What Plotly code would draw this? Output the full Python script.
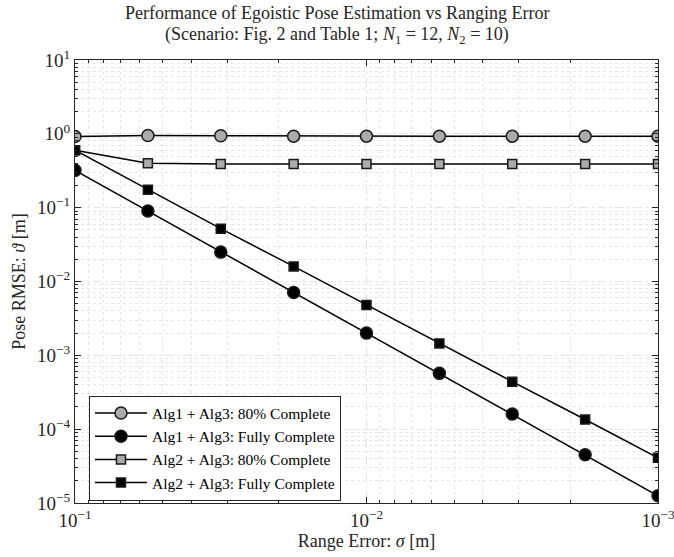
import plotly.graph_objects as go

sigma = [1e-1, 5.623e-2, 3.162e-2, 1.778e-2, 1e-2, 5.623e-3, 3.162e-3, 1.778e-3, 1e-3]
alg1_80 = [0.92, 0.95, 0.94, 0.93, 0.93, 0.93, 0.93, 0.93, 0.93]
alg1_full = [0.32, 0.090, 0.025, 0.0071, 0.0020, 0.00057, 0.00016, 4.5e-5, 1.25e-5]
alg2_80 = [0.60, 0.40, 0.39, 0.39, 0.39, 0.39, 0.39, 0.39, 0.39]
alg2_full = [0.60, 0.175, 0.052, 0.016, 0.0048, 0.00145, 0.00044, 0.000135, 4.1e-5]
names = ["Alg1 + Alg3: 80% Complete", "Alg1 + Alg3: Fully Complete",
         "Alg2 + Alg3: 80% Complete", "Alg2 + Alg3: Fully Complete"]
x_tickvals = [1e-1, 1e-2, 1e-3]
x_ticktext = ["10<sup>−1</sup>", "10<sup>−2</sup>", "10<sup>−3</sup>"]
y_tickvals = [1e-5, 1e-4, 1e-3, 1e-2, 1e-1, 1e0, 1e1]
y_ticktext = ["10<sup>−5</sup>", "10<sup>−4</sup>", "10<sup>−3</sup>", "10<sup>−2</sup>",
              "10<sup>−1</sup>", "10<sup>0</sup>", "10<sup>1</sup>"]
title_lines = ["Performance of Egoistic Pose Estimation vs Ranging Error",
               "(Scenario: Fig. 2 and Table 1; <i>N</i><sub>1</sub> = 12, <i>N</i><sub>2</sub> = 10)"]

FONT = "Liberation Serif"
GRAY = "#ababab"
TXT = "#262626"

fig = go.Figure()
styles = [
    (alg1_80, "circle", 12, GRAY),
    (alg1_full, "circle", 12, "black"),
    (alg2_80, "square", 9, GRAY),
    (alg2_full, "square", 9, "black"),
]
for (vals, sym, sz, fc), nm in zip(styles, names):
    fig.add_trace(go.Scatter(
        x=sigma, y=vals, name=nm, mode="lines+markers",
        line=dict(color="black", width=1.5),
        marker=dict(symbol=sym, size=sz, color=fc, line=dict(color="#1a1a1a", width=1.5)),
    ))

axis_common = dict(
    type="log", showline=True, linecolor=TXT, linewidth=1, mirror="allticks",
    ticks="inside", ticklen=6, tickcolor=TXT,
    showgrid=True, gridcolor="#e4e4e4", griddash="dash", gridwidth=1,
    tickfont=dict(family=FONT, size=19, color=TXT),
    ticklabeloverflow="allow", automargin=False,
    zeroline=False,
    minor=dict(ticks="inside", ticklen=3, tickcolor=TXT, dtick="D1",
               showgrid=True, gridcolor="#e6e6e6", griddash="dot", gridwidth=1),
)

fig.update_xaxes(**axis_common, range=[-1 + 1e-6, -3 - 1e-6],
                 tickvals=x_tickvals, ticktext=x_ticktext,
                 title=dict(text="Range Error: <i>σ</i> [m]", font=dict(family=FONT, size=18, color=TXT), standoff=2))
fig.update_yaxes(**axis_common, range=[-5 - 1e-6, 1 + 1e-6],
                 tickvals=y_tickvals, ticktext=y_ticktext,
                 title=dict(text="Pose RMSE: <i>ϑ</i> [m]", font=dict(family=FONT, size=18, color=TXT), standoff=6))

for txt, ypix in zip(title_lines, [13, 36]):
    fig.add_annotation(text=txt, xref="paper", yref="paper",
                       x=(337 - 75) / (658 - 75), y=(503 - ypix) / (503 - 60),
                       xanchor="center", yanchor="middle", showarrow=False,
                       font=dict(family=FONT, size=18, color=TXT))

fig.update_layout(
    width=674, height=557,
    margin=dict(l=75, r=16, t=60, b=54),
    paper_bgcolor="white", plot_bgcolor="white",
    legend=dict(
        x=0.024, y=(503 - 448) / (503 - 60), xanchor="left", yanchor="middle",
        bordercolor=TXT, borderwidth=1, bgcolor="white",
        font=dict(family=FONT, size=15.5, color="black"),
        tracegroupgap=0, itemwidth=52,
    ),
    showlegend=True,
)

fig.write_html("out.html")
